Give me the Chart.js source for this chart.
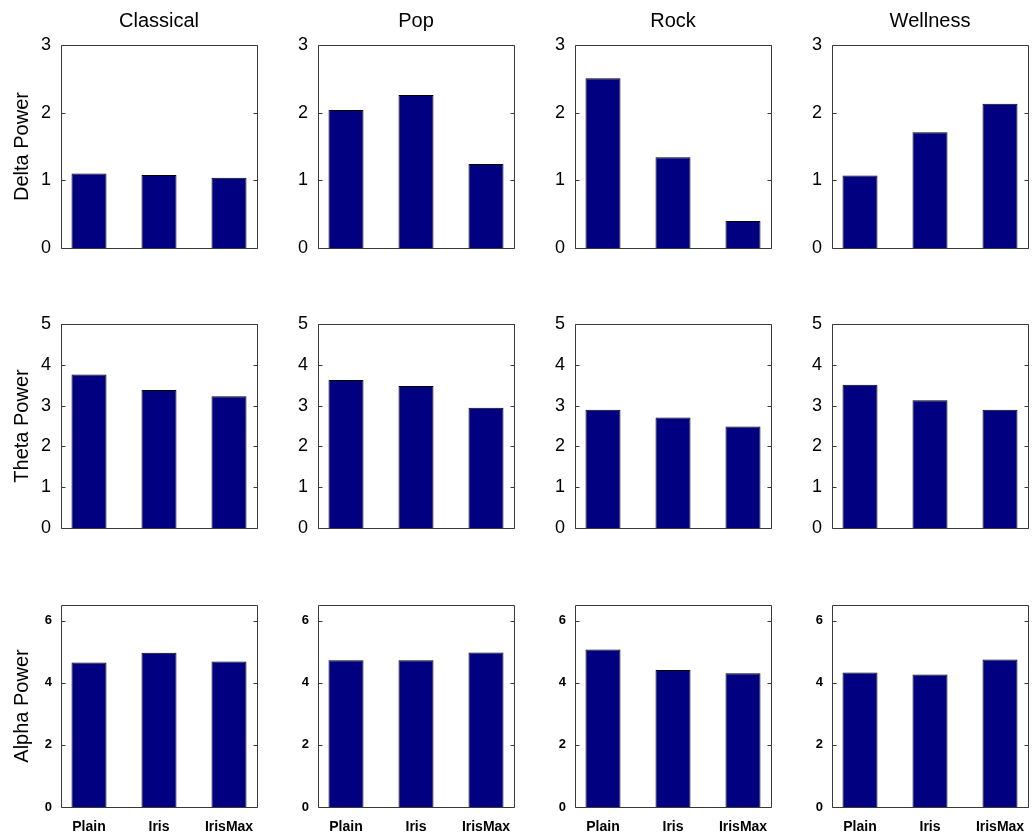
<!DOCTYPE html>
<html>
<head>
<meta charset="utf-8">
<title>EEG band power by music genre</title>
<script src="https://cdn.jsdelivr.net/npm/chart.js@4.4.1/dist/chart.umd.min.js"></script>
<style>
  html, body { margin: 0; padding: 0; background: #ffffff; }
  #grid { position: relative; width: 1033px; height: 839px; overflow: hidden; background: #ffffff; }
  #grid canvas { position: absolute; }
</style>
</head>
<body>
<div id="grid"></div>
<script>
// ---- data ----------------------------------------------------------------
const genres = ['Classical', 'Pop', 'Rock', 'Wellness'];
const conditions = ['Plain', 'Iris', 'IrisMax'];
const bandLabels = ['Delta Power', 'Theta Power', 'Alpha Power'];

// mean band power, ordered Plain / Iris / IrisMax
const deltaClassical = [1.10, 1.08, 1.04];
const deltaPop       = [2.04, 2.26, 1.24];
const deltaRock      = [2.51, 1.34, 0.40];
const deltaWellness  = [1.07, 1.71, 2.13];

const thetaClassical = [3.76, 3.38, 3.23];
const thetaPop       = [3.63, 3.48, 2.95];
const thetaRock      = [2.90, 2.71, 2.49];
const thetaWellness  = [3.51, 3.13, 2.90];

const alphaClassical = [4.65, 4.96, 4.68];
const alphaPop       = [4.72, 4.72, 4.97];
const alphaRock      = [5.07, 4.41, 4.30];
const alphaWellness  = [4.33, 4.26, 4.75];

const deltaTicks = [0, 1, 2, 3];
const thetaTicks = [0, 1, 2, 3, 4, 5];
const alphaTicks = [0, 2, 4, 6];
const yLimits = [3, 5, 6.5];

// rows = bands, columns = genres
const panelValues = [
  [deltaClassical, deltaPop, deltaRock, deltaWellness],
  [thetaClassical, thetaPop, thetaRock, thetaWellness],
  [alphaClassical, alphaPop, alphaRock, alphaWellness]
];
const tickSets = [deltaTicks, thetaTicks, alphaTicks];

// ---- layout --------------------------------------------------------------
const colLeft = [61, 318, 575, 832];
const plotWidth = 196;
const rowTop = [45, 324, 605];
const rowBottom = [248, 528, 807];
const AXIS_W = 60;     // room left of each plot for tick labels / axis title
const HEAD_H = 45;     // room above each plot for the column title
const FOOT_H = 32;     // room below each plot for condition labels
const RIGHT_PAD = 20;

const FONT = '"Liberation Sans", Arial, Helvetica, sans-serif';
Chart.defaults.font.family = FONT;
Chart.defaults.color = '#000000';

// axes box with MATLAB-style inward tick marks
const axesFrame = {
  id: 'axesFrame',
  afterDatasetsDraw(chart) {
    const { ctx, chartArea: a } = chart;
    const y = chart.scales.y;
    const L = Math.round(a.left) + 0.5;
    const R = Math.round(a.right) + 0.5;
    const T = Math.round(a.top) + 0.5;
    const B = Math.round(a.bottom) + 0.5;
    ctx.save();
    ctx.strokeStyle = '#3a3a3a';
    ctx.lineWidth = 1;
    ctx.beginPath();
    ctx.moveTo(L, T); ctx.lineTo(R, T); ctx.lineTo(R, B); ctx.lineTo(L, B); ctx.closePath();
    y.ticks.forEach(t => {
      const py = Math.round(y.getPixelForValue(t.value)) + 0.5;
      ctx.moveTo(L, py); ctx.lineTo(L + 4, py);
      ctx.moveTo(R, py); ctx.lineTo(R - 4, py);
    });
    ctx.stroke();
    ctx.restore();
  }
};

const hiddenGrid = { display: false, drawTicks: false, tickLength: 0 };
const grid = document.getElementById('grid');

for (let r = 0; r < 3; r++) {
  for (let c = 0; c < 4; c++) {
    const plotH = rowBottom[r] - rowTop[r];
    const canvas = document.createElement('canvas');
    canvas.width = AXIS_W + plotWidth + RIGHT_PAD;
    canvas.height = HEAD_H + plotH + FOOT_H;
    canvas.style.left = (colLeft[c] - AXIS_W) + 'px';
    canvas.style.top = (rowTop[r] - HEAD_H) + 'px';
    grid.appendChild(canvas);

    const bottomRow = r === 2;
    const tickFont = bottomRow ? { size: 13, weight: 'bold' } : { size: 18 };

    new Chart(canvas, {
      type: 'bar',
      data: {
        datasets: [{
          data: panelValues[r][c].map((v, i) => ({ x: i + 1, y: v })),
          xAxisID: 'x',
          yAxisID: 'y',
          backgroundColor: '#000080',
          borderColor: '#000000',
          borderWidth: 1,
          borderSkipped: 'start',
          barPercentage: 0.5,
          categoryPercentage: 1.0
        }]
      },
      options: {
        responsive: false,
        animation: false,
        devicePixelRatio: 1,
        events: [],
        layout: { padding: { top: 0, left: 0, right: RIGHT_PAD, bottom: 0 } },
        plugins: {
          legend: { display: false },
          tooltip: { enabled: false },
          title: { display: false }
        },
        scales: {
          x: {
            type: 'linear',
            position: 'bottom',
            offset: false,
            min: 0.6,
            max: 3.4,
            grid: hiddenGrid,
            border: { display: false },
            afterBuildTicks: s => { s.ticks = conditions.map((_, i) => ({ value: i + 1 })); },
            afterFit: s => { s.height = FOOT_H; },
            ticks: {
              display: bottomRow,
              autoSkip: false,
              maxRotation: 0,
              padding: 12,
              color: '#000000',
              font: { size: 14, weight: 'bold' },
              callback: v => conditions[v - 1]
            }
          },
          xTitle: {
            type: 'linear',
            axis: 'x',
            position: 'top',
            min: 0,
            max: 1,
            grid: hiddenGrid,
            border: { display: false },
            ticks: { display: false },
            afterFit: s => { s.height = HEAD_H; },
            title: {
              display: r === 0,
              text: genres[c],
              color: '#000000',
              font: { size: 20 },
              padding: { top: 9, bottom: 0 }
            }
          },
          y: {
            type: 'linear',
            position: 'left',
            min: 0,
            max: yLimits[r],
            grid: hiddenGrid,
            border: { display: false },
            afterBuildTicks: s => { s.ticks = tickSets[r].map(v => ({ value: v })); },
            afterFit: s => { s.width = AXIS_W; },
            ticks: {
              autoSkip: false,
              padding: bottomRow ? 9 : 10,
              color: '#000000',
              font: tickFont
            },
            title: {
              display: c === 0,
              text: bandLabels[r],
              color: '#000000',
              font: { size: 20 },
              padding: { top: 9, bottom: 0 }
            }
          }
        }
      },
      plugins: [axesFrame]
    });
  }
}
</script>
</body>
</html>
